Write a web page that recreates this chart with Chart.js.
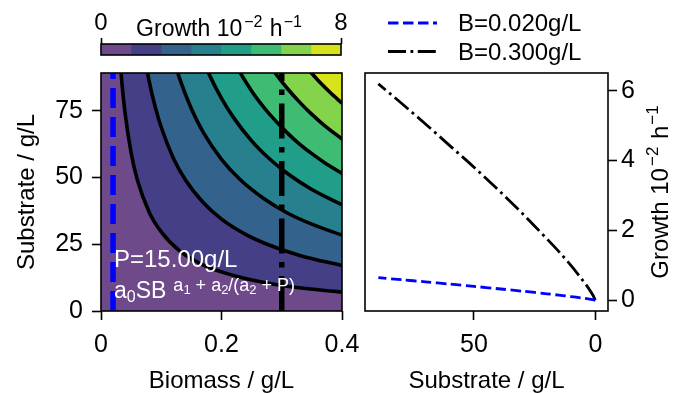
<!DOCTYPE html>
<html>
<head>
<meta charset="utf-8">
<script src="https://cdn.jsdelivr.net/npm/chart.js@4/dist/chart.umd.min.js"></script>
<style>
  html, body { margin: 0; padding: 0; background: #fff; }
  #wrap { position: relative; width: 686px; height: 393px; overflow: hidden; }
  #wrap canvas { position: absolute; left: 0; top: 0; }
</style>
</head>
<body>
<div id="wrap">
  <canvas id="barChart" width="686" height="393"></canvas>
  <canvas id="mapChart" width="686" height="393"></canvas>
  <canvas id="lineChart" width="686" height="393"></canvas>
</div>
<script>
// ---- data ----
const growthLevels = [0, 1, 2, 3, 4, 5, 6, 7, 8]; // colour bar levels, 10^-2 h^-1
const colorbarTicks = [0, 8];
const biomassTicks = [0, 0.2, 0.4];
const substrateTicks = [0, 25, 50, 75];
const rightSubstrateTicks = [0, 50];
const growthTicks = [0, 2, 4, 6];

// contour lines (growth = 1..7), points are [biomass g/L, substrate g/L]
const contour1 = [[0.031, 95.5], [0.035, 84.6], [0.04, 74.0], [0.05, 59.2], [0.06, 49.3], [0.08, 37.0], [0.1, 29.6], [0.13, 22.6], [0.17, 17.2], [0.22, 13.3], [0.28, 10.3], [0.34, 8.4], [0.4, 7.1]];
const contour2 = [[0.072, 95.6], [0.08, 86.0], [0.09, 76.4], [0.1, 68.8], [0.12, 57.3], [0.14, 49.1], [0.17, 40.5], [0.2, 34.4], [0.24, 28.7], [0.28, 24.6], [0.33, 20.8], [0.4, 17.0]];
const contour3 = [[0.12, 94.7], [0.13, 87.4], [0.15, 75.7], [0.17, 66.8], [0.2, 56.8], [0.23, 49.4], [0.27, 42.1], [0.31, 36.6], [0.35, 32.5], [0.4, 28.4]];
const contour4 = [[0.168, 94.8], [0.18, 88.4], [0.2, 79.6], [0.22, 72.4], [0.25, 63.7], [0.28, 56.9], [0.31, 51.4], [0.35, 45.5], [0.4, 39.8]];
const contour5 = [[0.217, 94.9], [0.23, 89.6], [0.25, 82.4], [0.265, 77.7], [0.28, 73.6], [0.31, 66.5], [0.33, 62.4], [0.35, 58.9], [0.37, 55.7], [0.4, 51.5]];
const contour6 = [[0.271, 95.1], [0.29, 88.8], [0.31, 83.1], [0.33, 78.1], [0.35, 73.6], [0.37, 69.6], [0.4, 64.4]];
const contour7 = [[0.328, 94.9], [0.34, 91.5], [0.35, 88.9], [0.36, 86.4], [0.38, 81.9], [0.4, 77.8]];

const cutBiomass = [0.02, 0.3];   // the two vertical cuts
const cutSubstrate = [0, 89.1];
const legendLabels = ['B=0.020g/L', 'B=0.300g/L'];

// right panel: growth along the two cuts
const substrate = [0, 1, 3, 6, 10, 15, 20, 30, 40, 50, 60, 70, 80, 89.4];
const growthLow = [0, 0.015, 0.037, 0.067, 0.102, 0.144, 0.183, 0.258, 0.328, 0.396, 0.461, 0.525, 0.588, 0.645];
const growthHigh = [0, 0.14, 0.36, 0.64, 0.99, 1.39, 1.76, 2.48, 3.16, 3.81, 4.43, 5.05, 5.65, 6.2];

// ---- style ----
const FONT = "'Liberation Sans', Arial, Helvetica, sans-serif";
const bandColors = ['#6e4a8b', '#443f87', '#33628d', '#27808e', '#209e89', '#3fbc73', '#84d44b', '#d8e21b'];

Chart.defaults.font.family = FONT;
Chart.defaults.font.size = 25;
Chart.defaults.color = '#000';

function fixedTicks(values) {
  return function (scale) { scale.ticks = values.map(v => ({ value: v })); };
}

// draws text pieces of different sizes (sub / superscripts)
function drawRuns(ctx, runs, x, y, align) {
  let total = 0;
  runs.forEach(r => { ctx.font = r[1] + 'px ' + FONT; total += ctx.measureText(r[0]).width + (r[3] || 0); });
  let cx = align === 'center' ? x - total / 2 : x;
  ctx.textAlign = 'left';
  ctx.textBaseline = 'alphabetic';
  runs.forEach(r => {
    ctx.font = r[1] + 'px ' + FONT;
    cx += r[3] || 0;
    ctx.fillText(r[0], cx, y + r[2]);
    cx += ctx.measureText(r[0]).width;
  });
}

function frame(chart) {
  const { ctx, chartArea: a } = chart;
  ctx.save();
  ctx.lineWidth = 1.6;
  ctx.strokeStyle = '#000';
  ctx.strokeRect(a.left, a.top, a.right - a.left, a.bottom - a.top);
  ctx.restore();
}

function tickGrid(len) {
  return { drawOnChartArea: false, drawTicks: true, tickLength: len, tickColor: '#000', tickWidth: 1.6 };
}

// ---- colour bar ----
const barDecor = {
  id: 'barDecor',
  afterDatasetsDraw(chart) {
    frame(chart);
    const { ctx, chartArea: a } = chart;
    ctx.save();
    ctx.fillStyle = '#000';
    drawRuns(ctx, [['Growth 10', 23, 0, 0], ['\u22122', 16, -9, 2], [' h', 23, 0, 1], ['\u22121', 16, -9, 1]], (a.left + a.right) / 2 - 2, 36, 'center');
    ctx.restore();
  }
};

new Chart(document.getElementById('barChart'), {
  type: 'bar',
  data: {
    labels: ['growth'],
    datasets: growthLevels.slice(0, -1).map((lo, i) => ({
      data: [[lo, growthLevels[i + 1]]],
      backgroundColor: bandColors[i],
      borderWidth: 0,
      barPercentage: 1,
      categoryPercentage: 1,
      grouped: false
    }))
  },
  options: {
    indexAxis: 'y',
    responsive: false,
    animation: false,
    events: [],
    layout: { padding: { left: 101, right: 345, top: 0, bottom: 338 } },
    plugins: { legend: { display: false }, tooltip: { enabled: false } },
    scales: {
      x: {
        type: 'linear', position: 'top', min: 0, max: 8,
        afterBuildTicks: fixedTicks(colorbarTicks),
        afterFit: s => { s.height = 44; },
        grid: tickGrid(6),
        border: { display: false },
        ticks: { padding: 0, maxRotation: 0, autoSkip: false, font: { size: 24 }, callback: v => String(v) }
      },
      y: { display: false }
    }
  },
  plugins: [barDecor]
});

// ---- contour map ----
const formulaRuns = [
  ['a', 23, 0, 0], ['0', 16, 4, 0], ['SB', 23, 0, 0],
  ['a', 18, -7, 7], ['1', 13, -4, 0], [' + ', 18, -7, 0], ['a', 18, -7, 0], ['2', 13, -4, 0],
  ['/(', 18, -7, 0], ['a', 18, -7, 0], ['2', 13, -4, 0], [' + P)', 18, -7, 0]
];

const mapDecor = {
  id: 'mapDecor',
  beforeDatasetsDraw(chart) {
    const { ctx, chartArea: a } = chart;
    ctx.save();
    ctx.fillStyle = bandColors[0];
    ctx.fillRect(a.left, a.top, a.right - a.left, a.bottom - a.top);
    ctx.restore();
  },
  afterDatasetsDraw(chart) {
    const { ctx, chartArea: a } = chart;
    ctx.save();
    ctx.fillStyle = '#fff';
    ctx.font = '24px ' + FONT;
    ctx.textAlign = 'left';
    ctx.textBaseline = 'alphabetic';
    ctx.fillText('P=15.00g/L', a.left + 13, a.bottom - 44);
    drawRuns(ctx, formulaRuns, a.left + 13, a.bottom - 13, 'left');
    ctx.restore();
    frame(chart);
  }
};

const contours = [contour1, contour2, contour3, contour4, contour5, contour6, contour7];
const contourSets = contours.map((pts, i) => ({
  data: pts.map(p => ({ x: p[0], y: p[1] })),
  showLine: true,
  borderColor: '#000',
  borderWidth: 3.6,
  pointRadius: 0,
  fill: 'end',
  backgroundColor: bandColors[i + 1],
  cubicInterpolationMode: 'monotone',
  clip: 0,
  order: 10 - i
}));

new Chart(document.getElementById('mapChart'), {
  type: 'scatter',
  data: {
    datasets: contourSets.concat([
      {
        data: cutSubstrate.map(s => ({ x: cutBiomass[0], y: s })),
        showLine: true, borderColor: '#0000ff', borderWidth: 5.5, borderDash: [20, 9],
        pointRadius: 0, fill: false, clip: 0, order: 0
      },
      {
        data: cutSubstrate.map(s => ({ x: cutBiomass[1], y: s })),
        showLine: true, borderColor: '#000', borderWidth: 5.5, borderDash: [35, 8.5, 5.5, 8.5],
        pointRadius: 0, fill: false, clip: 0, order: 0
      }
    ])
  },
  options: {
    responsive: false,
    animation: false,
    events: [],
    layout: { padding: { left: 0, right: 344, top: 73, bottom: 0 } },
    plugins: { legend: { display: false }, tooltip: { enabled: false } },
    scales: {
      x: {
        type: 'linear', min: 0, max: 0.4,
        afterBuildTicks: fixedTicks(biomassTicks),
        afterFit: s => { s.height = 82; },
        grid: tickGrid(9),
        border: { display: false },
        ticks: { padding: 10, maxRotation: 0, autoSkip: false, callback: v => String(v) },
        title: { display: true, text: 'Biomass / g/L', font: { size: 24, lineHeight: 1 }, padding: 0 }
      },
      y: {
        type: 'linear', min: 0, max: 89.1,
        afterBuildTicks: fixedTicks(substrateTicks),
        afterFit: s => { s.width = 101; },
        grid: tickGrid(9),
        border: { display: false },
        ticks: { padding: 9, autoSkip: false, callback: v => String(v) },
        title: { display: true, text: 'Substrate / g/L', font: { size: 24, lineHeight: 1 }, padding: { top: 15, bottom: 0 } }
      }
    }
  },
  plugins: [mapDecor]
});

// ---- growth along the cuts ----
const lineDecor = {
  id: 'lineDecor',
  afterDatasetsDraw(chart) { frame(chart); },
  afterDraw(chart) {
    const { ctx, chartArea: a } = chart;
    ctx.save();
    // legend
    const styles = [
      { color: '#0000ff', dash: [10.5, 4.5] },
      { color: '#000', dash: [18, 4.5, 2.8, 4.5] }
    ];
    legendLabels.forEach((lab, i) => {
      const y = 23 + i * 28.5;
      ctx.beginPath();
      ctx.setLineDash(styles[i].dash);
      ctx.lineWidth = 2.8;
      ctx.strokeStyle = styles[i].color;
      ctx.moveTo(a.left + 23, y);
      ctx.lineTo(a.left + 72, y);
      ctx.stroke();
      ctx.setLineDash([]);
      ctx.fillStyle = '#000';
      ctx.font = '24px ' + FONT;
      ctx.textAlign = 'left';
      ctx.textBaseline = 'alphabetic';
      ctx.fillText(lab, a.left + 93, y + 8);
    });
    // right axis title, reading upwards
    ctx.translate(a.right + 60, (a.top + a.bottom) / 2);
    ctx.rotate(-Math.PI / 2);
    ctx.fillStyle = '#000';
    drawRuns(ctx, [['Growth 10', 24, 0, 0], ['\u22122', 17, -10, 2], [' h', 24, 0, 1], ['\u22121', 17, -10, 1]], 0, 0, 'center');
    ctx.restore();
  }
};

new Chart(document.getElementById('lineChart'), {
  type: 'scatter',
  data: {
    datasets: [
      {
        label: legendLabels[0],
        data: substrate.map((s, i) => ({ x: s, y: growthLow[i] })),
        showLine: true, borderColor: '#0000ff', borderWidth: 2.8, borderDash: [10.5, 4.5],
        pointRadius: 0, tension: 0.3
      },
      {
        label: legendLabels[1],
        data: substrate.map((s, i) => ({ x: s, y: growthHigh[i] })),
        showLine: true, borderColor: '#000', borderWidth: 2.8, borderDash: [18, 4.5, 2.8, 4.5],
        pointRadius: 0, cubicInterpolationMode: 'monotone'
      }
    ]
  },
  options: {
    responsive: false,
    animation: false,
    events: [],
    layout: { padding: { left: 365, right: 0, top: 73, bottom: 0 } },
    plugins: { legend: { display: false }, tooltip: { enabled: false } },
    scales: {
      x: {
        type: 'linear', reverse: true, min: -5.2, max: 94.9,
        afterBuildTicks: fixedTicks(rightSubstrateTicks),
        afterFit: s => { s.height = 82; },
        grid: tickGrid(9),
        border: { display: false },
        ticks: { padding: 10, maxRotation: 0, autoSkip: false, callback: v => String(v) },
        title: { display: true, text: 'Substrate / g/L', font: { size: 24, lineHeight: 1 }, padding: 0 }
      },
      y: {
        type: 'linear', position: 'right', min: -0.31, max: 6.51,
        afterBuildTicks: fixedTicks(growthTicks),
        afterFit: s => { s.width = 78; },
        grid: tickGrid(9),
        border: { display: false },
        ticks: { padding: 4, autoSkip: false, callback: v => String(v) }
      }
    }
  },
  plugins: [lineDecor]
});
</script>
</body>
</html>
